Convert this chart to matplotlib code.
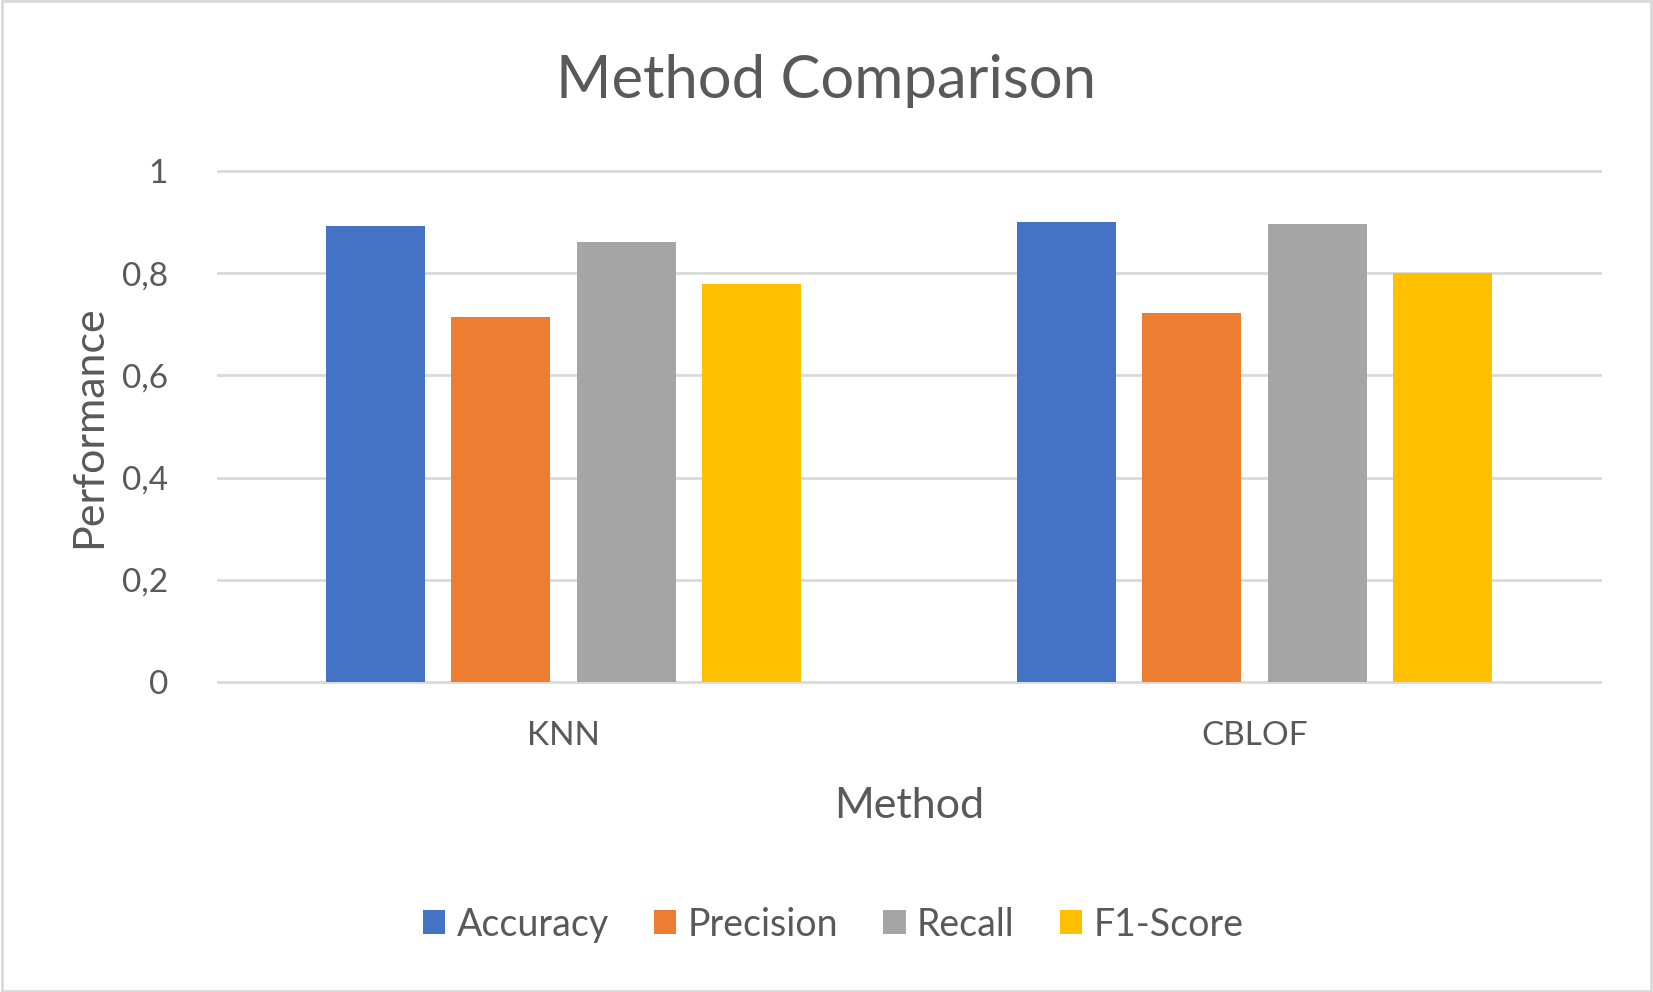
import matplotlib.pyplot as plt
import numpy as np
from matplotlib.patches import Rectangle

plt.rcParams['font.family'] = ['Lato', 'DejaVu Sans']

metodos = ["KNN", "CBLOF"]
series = ["Accuracy", "Precision", "Recall", "F1-Score"]
valores = {
    "Accuracy": [0.892, 0.900],
    "Precision": [0.715, 0.723],
    "Recall": [0.861, 0.896],
    "F1-Score": [0.780, 0.800],
}
colores = ["#4472C4", "#ED7D31", "#A5A5A5", "#FFC000"]
gris = "#595959"

fig = plt.figure(figsize=(16.53, 9.92), dpi=100)
ax = fig.add_axes([0.1319, 0.3125, 0.836, 0.515])

x = np.arange(len(metodos))
paso = 0.1815
ancho = 0.1434
for i, s in enumerate(series):
    ax.bar(x + (i - 1.5) * paso, valores[s], ancho, color=colores[i], label=s, zorder=3)

ax.set_xlim(-0.5, 1.5)
ax.set_ylim(0, 1)
ticks = [0, 0.2, 0.4, 0.6, 0.8, 1]
ax.set_yticks(ticks)
ax.set_yticklabels([("%g" % t).replace(".", ",") for t in ticks])
ax.set_xticks(x)
ax.set_xticklabels(metodos)
ax.grid(axis="y", color="#D9D9D9", linewidth=2, zorder=0)
for ln in ax.get_ygridlines():
    ln.set_clip_on(False)
for sp in ax.spines.values():
    sp.set_visible(False)
ax.tick_params(axis="both", length=0, labelsize=24, colors=gris)
ax.tick_params(axis="y", pad=36)
ax.tick_params(axis="x", pad=28)

ax.set_xlabel("Method", fontsize=31, color=gris, labelpad=26)
ax.set_ylabel("Performance", fontsize=31, color=gris, labelpad=10)
fig.text(0.5, 0.918, "Method Comparison", fontsize=43, color=gris, ha="center", va="center")

leg = fig.legend(loc="center", bbox_to_anchor=(0.504, 0.068), ncol=4, frameon=False,
                 fontsize=27, handlelength=0.6, handleheight=0.6, handletextpad=0.3,
                 columnspacing=1.2)
for t in leg.get_texts():
    t.set_color(gris)

fig.patches.append(Rectangle((0.001, 0.001), 0.998, 0.998, transform=fig.transFigure,
                             fill=False, edgecolor="#D9D9D9", linewidth=2))

plt.savefig("out.png")
